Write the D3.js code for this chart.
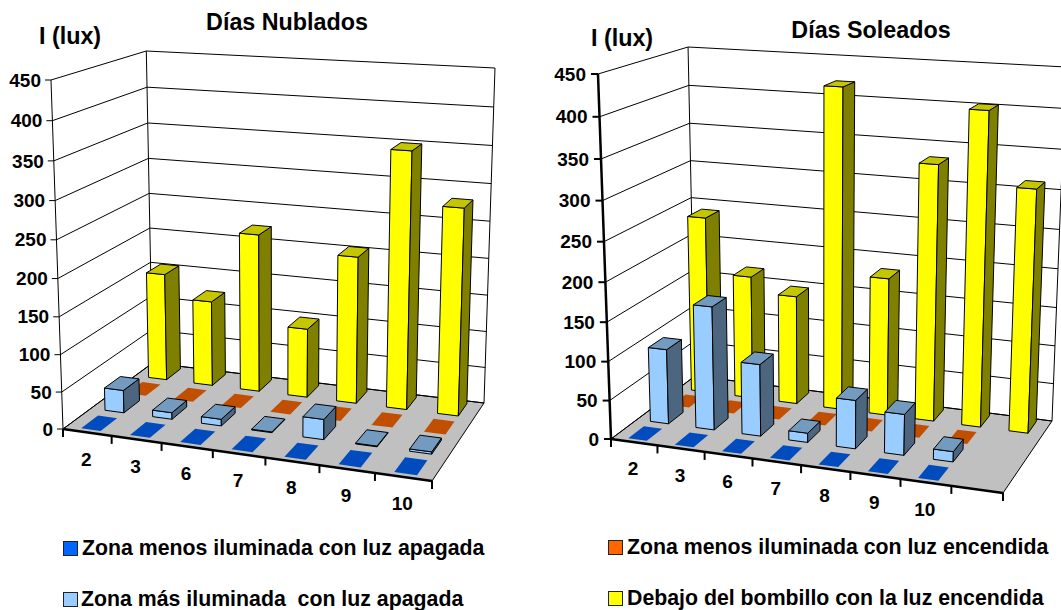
<!DOCTYPE html>
<html lang="es">
<head>
<meta charset="utf-8">
<title>Iluminación en días nublados y soleados</title>
<script src="https://cdn.jsdelivr.net/npm/d3@7/dist/d3.min.js"></script>
<style>
  html, body { margin: 0; padding: 0; background: #fff; }
  svg { display: block; }
  text { font-family: "Liberation Sans", Arial, sans-serif; font-weight: 700; fill: #000; }
</style>
</head>
<body>
<svg id="chart" width="1061" height="610"></svg>
<script>
// Illuminance readings (lux) per measuring day
const daysCloudy = ["2", "3", "6", "7", "8", "9", "10"];
const daysSunny = ["2", "3", "6", "7", "8", "9", "10", ""];
const valueTicks = [0, 50, 100, 150, 200, 250, 300, 350, 400, 450];

const seriesNames = [
  "Zona menos iluminada con luz apagada",
  "Zona más iluminada  con luz apagada",
  "Zona menos iluminada con luz encendida",
  "Debajo del bombillo con la luz encendida"
];

const cloudyDimOff = [0, 0, 0, 0, 0, 0, 0];
const cloudyBrightOff = [31, 9, 9, 1, 27, 1, 3];
const cloudyDimOn = [0, 0, 0, 0, 0, 0, 0];
const cloudyBulbOn = [152, 120, 220, 96, 202, 348, 279];

const sunnyDimOff = [0, 0, 0, 0, 0, 0, 0, null];
const sunnyBrightOff = [98, 160, 93, 12, 62, 52, 13, null];
const sunnyDimOn = [0, 0, 0, 0, 0, 0, 0, null];
const sunnyBulbOn = [238, 165, 145, 419, 181, 331, 401, 310];

// Fill tones per series: front face, top face, side face
const faceColors = [
  { front: "#0066ff", top: "#004bbd", side: "#003380" },
  { front: "#99ccff", top: "#739abf", side: "#4d6680" },
  { front: "#ff6600", top: "#c24e00", side: "#803300" },
  { front: "#ffff00", top: "#c6c600", side: "#808000" }
];

// Projected plot boxes: floor corners, wall tops and the vanishing point of the uprights
const cloudyBox = {
  floor: [[63, 429], [432, 481], [484, 403], [152.5, 363]],
  topFrontLeft: [51, 80], topBackLeft: [146, 51], topBackRight: [495, 68],
  vanish: [278, 6680],
  axisWidth: 1, title: "Días Nublados", titleX: 287, titleY: 30,
  unitX: 39, unitY: 44, rows: [cloudyDimOff, cloudyBrightOff, cloudyDimOn, cloudyBulbOn],
  cats: daysCloudy, labelGap: 10, tickLen: 6
};
const sunnyBox = {
  floor: [[611, 439], [1003, 493], [1052, 421], [695, 376]],
  topFrontLeft: [598, 74], topBackLeft: [687, 47], topBackRight: [1066, 67],
  vanish: [820, 6300],
  axisWidth: 2.5, title: "Días Soleados", titleX: 871, titleY: 38,
  unitX: 591, unitY: 46, rows: [sunnyDimOff, sunnyBrightOff, sunnyDimOn, sunnyBulbOn],
  cats: daysSunny, labelGap: 12, tickLen: 7
};

const svg = d3.select("#chart");

// Maps the unit square onto a quadrilateral (perspective floor plane)
function quadMap(q) {
  const [[x0, y0], [x1, y1], [x2, y2], [x3, y3]] = q;
  const dx1 = x1 - x2, dx2 = x3 - x2, sx = x0 - x1 + x2 - x3;
  const dy1 = y1 - y2, dy2 = y3 - y2, sy = y0 - y1 + y2 - y3;
  const det = dx1 * dy2 - dx2 * dy1;
  const g = (sx * dy2 - dx2 * sy) / det;
  const h = (dx1 * sy - sx * dy1) / det;
  const a = x1 - x0 + g * x1, b = x3 - x0 + h * x3;
  const d = y1 - y0 + g * y1, e = y3 - y0 + h * y3;
  return (u, w) => {
    const k = g * u + h * w + 1;
    return [(a * u + b * w + x0) / k, (d * u + e * w + y0) / k];
  };
}

function drawChart(box) {
  const g = svg.append("g");
  const floorAt = quadMap(box.floor);
  const y = d3.scaleLinear().domain([0, 450]).range([0, 1]);
  const [vx, vy] = box.vanish;

  // Depth weights along the uprights, fixed by the known wall tops
  const fl = box.floor;
  const rise = (fl[0][1] - box.topFrontLeft[1]) / (box.topFrontLeft[1] - vy);
  const weightAt = (p, top) => rise * (top[1] - vy) / (p[1] - top[1]);
  const kBackLeft = weightAt(fl[3], box.topBackLeft);
  const kBackRight = weightAt(fl[2], box.topBackRight);

  const project = (u, w, v) => {
    const p = floorAt(u, w), t = y(v);
    const k = 1 + (kBackRight - kBackLeft) * u + (kBackLeft - 1) * w;
    const den = k + rise * t;
    return [(k * p[0] + rise * t * vx) / den, (k * p[1] + rise * t * vy) / den];
  };
  const poly = pts => d3.line()(pts) + "Z";

  const catIdx = d3.range(box.cats.length);
  const xBand = d3.scaleBand().domain(catIdx).range([0, 1]).paddingInner(0.6).paddingOuter(0.3);
  const zBand = d3.scaleBand().domain(d3.range(box.rows.length)).range([0, 1]).paddingInner(0.3).paddingOuter(0.15);

  // Walls and floor
  g.append("path").attr("d", poly([project(0, 0, 0), project(0, 1, 0), project(0, 1, 450), project(0, 0, 450)]))
    .attr("fill", "#fff").attr("stroke", "none");
  g.append("path").attr("d", poly([project(0, 1, 0), project(1, 1, 0), project(1, 1, 450), project(0, 1, 450)]))
    .attr("fill", "#fff").attr("stroke", "none");
  g.append("path").attr("d", poly([project(0, 0, 0), project(1, 0, 0), project(1, 1, 0), project(0, 1, 0)]))
    .attr("fill", "#c0c0c0").attr("stroke", "#000").attr("stroke-width", 1);

  // Gridlines across both walls
  g.selectAll("path.grid").data(valueTicks).join("path").attr("class", "grid")
    .attr("d", v => d3.line()([project(0, 0, v), project(0, 1, v), project(1, 1, v)]))
    .attr("fill", "none").attr("stroke", "#000").attr("stroke-width", 1);

  // Wall uprights
  g.append("path").attr("d", d3.line()([project(0, 1, 0), project(0, 1, 450)])).attr("stroke", "#000").attr("fill", "none");
  g.append("path").attr("d", d3.line()([project(1, 1, 0), project(1, 1, 450)])).attr("stroke", "#000").attr("fill", "none");

  // Bars, back row first and left to right within a row
  d3.range(box.rows.length).reverse().forEach(row => {
    const colors = faceColors[row];
    const z0 = zBand(row), z1 = z0 + zBand.bandwidth();
    catIdx.forEach(i => {
      const v = box.rows[row][i];
      if (v === null) return;
      const u0 = xBand(i), u1 = u0 + xBand.bandwidth();
      const outline = v > 0 ? "#000" : "none";
      const bar = g.append("g").attr("stroke", outline).attr("stroke-width", 1).attr("stroke-linejoin", "round");
      if (v > 0) {
        bar.append("path").attr("fill", colors.front)
          .attr("d", poly([project(u0, z0, 0), project(u1, z0, 0), project(u1, z0, v), project(u0, z0, v)]));
        bar.append("path").attr("fill", colors.side)
          .attr("d", poly([project(u1, z0, 0), project(u1, z1, 0), project(u1, z1, v), project(u1, z0, v)]));
      }
      bar.append("path").attr("fill", colors.top)
        .attr("d", poly([project(u0, z0, v), project(u1, z0, v), project(u1, z1, v), project(u0, z1, v)]));
    });
  });

  // Value axis on the front-left upright
  g.append("path").attr("d", d3.line()([project(0, 0, 0), project(0, 0, 450)]))
    .attr("stroke", "#000").attr("stroke-width", box.axisWidth).attr("fill", "none");
  valueTicks.forEach(v => {
    const p = project(0, 0, v);
    g.append("line").attr("x1", p[0] - box.tickLen).attr("x2", p[0]).attr("y1", p[1]).attr("y2", p[1])
      .attr("stroke", "#000").attr("stroke-width", box.axisWidth > 1 ? 2 : 1);
    g.append("text").attr("x", p[0] - box.labelGap).attr("y", p[1]).attr("dy", "0.35em")
      .attr("text-anchor", "end").attr("font-size", 19).text(v);
  });

  // Category axis along the front edge of the floor
  g.append("path").attr("d", d3.line()([project(0, 0, 0), project(1, 0, 0)]))
    .attr("stroke", "#000").attr("stroke-width", 2.5).attr("fill", "none");
  d3.range(box.cats.length + 1).forEach(i => {
    const p = project(i / box.cats.length, 0, 0);
    g.append("line").attr("x1", p[0]).attr("x2", p[0]).attr("y1", p[1]).attr("y2", p[1] + 8)
      .attr("stroke", "#000").attr("stroke-width", 2);
  });
  box.cats.forEach((c, i) => {
    const p = project((i + 0.5) / box.cats.length, 0, 0);
    g.append("text").attr("x", p[0] - 1).attr("y", p[1] + 26.5).attr("dy", "0.35em")
      .attr("text-anchor", "middle").attr("font-size", 19).text(c);
  });

  // Heading and unit label
  g.append("text").attr("x", box.titleX).attr("y", box.titleY).attr("text-anchor", "middle")
    .attr("font-size", 23.3).text(box.title);
  g.append("text").attr("x", box.unitX).attr("y", box.unitY).attr("font-size", 23.3).text("I (lux)");
}

drawChart(cloudyBox);
drawChart(sunnyBox);

// Shared legend below the charts
const legendPlaces = [
  { sx: 63.5, sy: 541.5, tx: 82, ty: 555 },
  { sx: 63.5, sy: 592.5, tx: 81, ty: 606 },
  { sx: 608.5, sy: 540.5, tx: 627, ty: 554 },
  { sx: 608.5, sy: 591.5, tx: 627, ty: 605 }
];
const legend = svg.append("g").selectAll("g").data(seriesNames).join("g");
legend.append("rect")
  .attr("x", (d, i) => legendPlaces[i].sx).attr("y", (d, i) => legendPlaces[i].sy)
  .attr("width", 14).attr("height", 14)
  .attr("fill", (d, i) => faceColors[i].front).attr("stroke", "#222").attr("stroke-width", 1);
legend.append("text")
  .attr("x", (d, i) => legendPlaces[i].tx).attr("y", (d, i) => legendPlaces[i].ty)
  .attr("font-size", 21.3).style("white-space", "pre").text(d => d);
</script>
</body>
</html>
